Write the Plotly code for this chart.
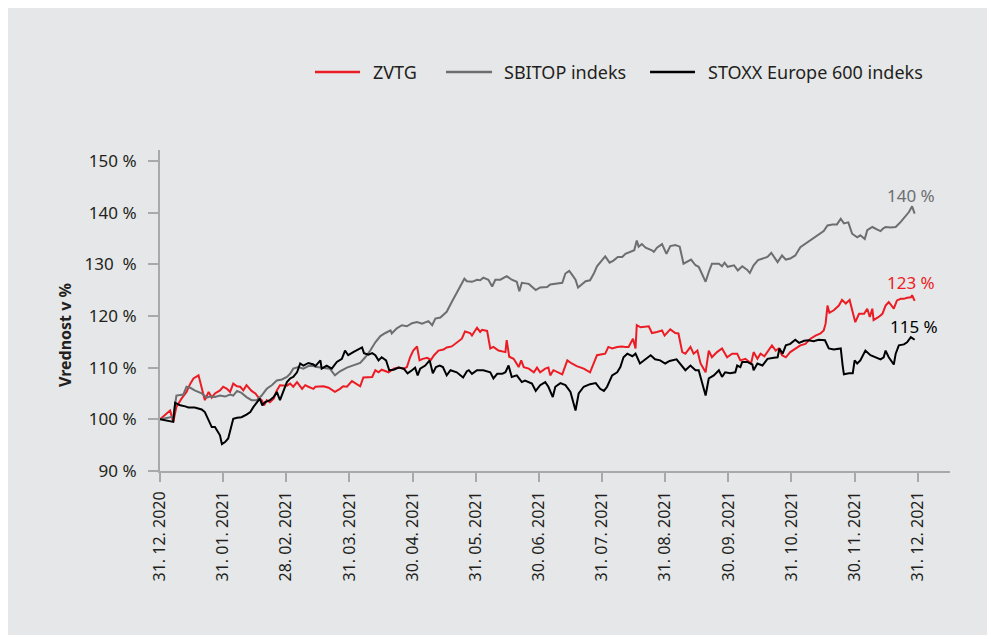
import plotly.graph_objects as go

# x positions are in months since 31.12.2020 (axis spaced evenly per month)
tick_labels = ["31. 12. 2020", "31. 01. 2021", "28. 02. 2021", "31. 03. 2021", "30. 04. 2021",
               "31. 05. 2021", "30. 06. 2021", "31. 07. 2021", "31. 08. 2021", "30. 09. 2021",
               "31. 10. 2021", "30. 11. 2021", "31. 12. 2021"]
y_ticks = [90, 100, 110, 120, 130, 140, 150]
y_tick_labels = ["90 %", "100 %", "110 %", "120 %", "130\u00a0 %", "140 %", "150 %"]

zvtg_x = [0.00, 0.16, 0.21, 0.26, 0.34, 0.42, 0.48, 0.53, 0.61, 0.71, 0.77, 0.82, 0.87, 0.95, 1.00, 1.06,
          1.11, 1.16, 1.22, 1.27, 1.32, 1.37, 1.45, 1.51, 1.56, 1.61, 1.65, 1.69, 1.74, 1.80, 1.85, 1.90,
          2.01, 2.06, 2.11, 2.17, 2.25, 2.30, 2.35, 2.43, 2.46, 2.59, 2.67, 2.77, 2.85, 2.90, 2.96, 3.04,
          3.17, 3.22, 3.36, 3.41, 3.46, 3.51, 3.62, 3.70, 3.78, 3.86, 3.91, 3.96, 4.01, 4.07, 4.11, 4.16,
          4.23, 4.29, 4.34, 4.41, 4.49, 4.54, 4.62, 4.70, 4.78, 4.83, 4.91, 4.94, 5.02, 5.07, 5.10, 5.18,
          5.23, 5.28, 5.36, 5.47, 5.49, 5.53, 5.60, 5.68, 5.72, 5.76, 5.84, 5.92, 5.97, 6.02, 6.10, 6.15,
          6.18, 6.23, 6.29, 6.37, 6.45, 6.52, 6.60, 6.71, 6.81, 6.87, 6.92, 7.00, 7.05, 7.10, 7.16, 7.24,
          7.31, 7.37, 7.42, 7.49, 7.53, 7.55, 7.61, 7.74, 7.79, 7.87, 7.95, 7.99, 8.08, 8.16, 8.21, 8.27,
          8.32, 8.40, 8.45, 8.51, 8.56, 8.64, 8.69, 8.74, 8.82, 8.90, 8.98, 9.06, 9.14, 9.19, 9.27, 9.36,
          9.40, 9.46, 9.51, 9.57, 9.62, 9.69, 9.75, 9.80, 9.85, 9.91, 9.98, 10.06, 10.14, 10.22, 10.30,
          10.38, 10.46, 10.51, 10.54, 10.57, 10.60, 10.67, 10.75, 10.80, 10.86, 10.92, 10.96, 11.01,
          11.07, 11.15, 11.20, 11.24, 11.28, 11.30, 11.38, 11.44, 11.49, 11.54, 11.62, 11.67, 11.73,
          11.78, 11.83, 11.89, 11.91, 11.95]
zvtg_y = [100.0, 101.7, 99.5, 102.4, 104.0, 105.3, 106.9, 107.9, 108.5, 103.7, 105.3, 104.2, 105.0, 105.6,
          106.3, 105.9, 105.3, 106.9, 106.4, 106.3, 105.6, 106.6, 105.5, 105.0, 104.2, 103.7, 102.7, 103.7,
          103.3, 104.0, 105.6, 106.6, 106.5, 106.9, 106.3, 107.2, 105.9, 106.6, 106.3, 105.9, 106.3, 106.4,
          106.1, 105.3, 105.9, 106.4, 106.3, 107.4, 106.4, 108.1, 108.2, 109.5, 109.1, 109.6, 109.1, 109.8,
          110.0, 109.8, 110.1, 112.0, 113.3, 114.1, 111.4, 111.7, 111.9, 111.5, 112.4, 113.3, 113.5, 113.9,
          114.1, 114.8, 115.6, 117.0, 116.7, 116.2, 117.7, 116.9, 117.3, 117.1, 113.7, 114.0, 113.3, 113.0,
          115.3, 112.1, 111.7, 110.1, 111.4, 110.1, 109.8, 109.1, 110.0, 109.1, 109.8, 110.0, 108.5, 109.5,
          109.1, 108.7, 111.4, 110.8, 110.3, 109.8, 109.1, 110.8, 112.4, 112.6, 112.7, 114.0, 113.7, 114.0,
          114.1, 114.0, 114.0, 115.6, 113.7, 118.2, 117.8, 118.0, 116.7, 116.9, 117.2, 116.2, 117.4, 116.7,
          116.6, 113.0, 112.7, 114.0, 112.7, 113.3, 110.8, 109.1, 113.3, 112.0, 113.0, 113.7, 112.0, 112.7,
          112.7, 111.4, 111.7, 110.8, 113.0, 111.7, 112.7, 112.2, 113.0, 114.3, 113.3, 113.7, 112.4, 112.0,
          113.0, 113.7, 114.3, 114.6, 115.6, 116.2, 116.6, 117.2, 118.5, 122.0, 120.6, 121.1, 122.0, 123.1,
          122.4, 123.1, 121.4, 118.8, 120.4, 120.4, 121.4, 119.8, 121.4, 119.2, 119.8, 120.4, 122.0, 122.7,
          121.4, 123.0, 123.3, 123.3, 123.5, 123.6, 124.0, 122.9]

sbitop_x = [0.00, 0.13, 0.21, 0.26, 0.37, 0.42, 0.48, 0.55, 0.66, 0.74, 0.79, 0.87, 0.95, 1.03, 1.11, 1.16,
            1.22, 1.29, 1.37, 1.45, 1.53, 1.61, 1.69, 1.77, 1.85, 1.93, 2.01, 2.06, 2.11, 2.19, 2.27, 2.35,
            2.43, 2.48, 2.69, 2.77, 2.85, 2.96, 3.06, 3.17, 3.25, 3.33, 3.41, 3.49, 3.57, 3.65, 3.67, 3.75,
            3.83, 3.91, 3.99, 4.07, 4.15, 4.25, 4.31, 4.36, 4.44, 4.54, 4.62, 4.70, 4.78, 4.82, 4.86, 4.94,
            5.02, 5.07, 5.12, 5.20, 5.26, 5.31, 5.39, 5.49, 5.57, 5.65, 5.69, 5.73, 5.84, 5.89, 5.95, 6.02,
            6.13, 6.18, 6.29, 6.37, 6.42, 6.48, 6.53, 6.58, 6.62, 6.68, 6.74, 6.81, 6.87, 6.92, 7.00, 7.05,
            7.12, 7.18, 7.25, 7.32, 7.37, 7.45, 7.51, 7.55, 7.58, 7.63, 7.69, 7.79, 7.82, 7.87, 7.95, 8.02,
            8.08, 8.16, 8.23, 8.29, 8.41, 8.48, 8.53, 8.58, 8.64, 8.69, 8.74, 8.85, 8.90, 8.94, 8.99, 9.09,
            9.15, 9.22, 9.30, 9.34, 9.40, 9.47, 9.54, 9.62, 9.68, 9.78, 9.85, 9.91, 9.98, 10.06, 10.14,
            10.22, 10.33, 10.41, 10.51, 10.57, 10.65, 10.72, 10.78, 10.83, 10.90, 10.96, 11.04, 11.09,
            11.16, 11.20, 11.28, 11.36, 11.41, 11.45, 11.49, 11.57, 11.65, 11.73, 11.81, 11.86, 11.91, 11.95]
sbitop_y = [100.0, 100.4, 100.5, 104.6, 104.8, 106.3, 106.1, 105.6, 105.0, 104.2, 104.4, 104.3, 104.6, 104.4,
            104.8, 104.6, 105.5, 105.1, 104.3, 103.7, 103.7, 104.6, 105.9, 106.6, 107.5, 107.7, 108.2, 108.8,
            109.8, 110.1, 109.8, 110.3, 110.3, 110.1, 109.8, 108.5, 109.3, 110.0, 110.4, 110.9, 112.0, 113.3,
            114.9, 116.1, 116.7, 117.2, 116.6, 117.6, 118.2, 118.0, 118.6, 118.8, 118.5, 119.0, 118.2, 119.5,
            119.7, 120.8, 122.7, 124.6, 126.2, 127.2, 126.7, 126.6, 127.0, 126.9, 127.4, 127.0, 125.7, 127.0,
            127.0, 127.7, 127.0, 126.6, 124.8, 126.4, 126.2, 125.6, 125.0, 125.5, 125.6, 126.1, 126.2, 126.4,
            128.2, 128.7, 127.9, 127.0, 125.5, 126.2, 126.7, 126.9, 128.2, 129.6, 130.8, 131.5, 130.3, 130.7,
            131.4, 131.4, 132.0, 132.4, 132.7, 134.6, 133.4, 133.9, 133.2, 132.7, 132.4, 133.2, 133.9, 132.0,
            133.5, 133.7, 133.4, 130.1, 130.9, 129.8, 129.5, 128.2, 126.6, 128.5, 130.1, 130.1, 129.6, 130.3,
            129.5, 129.8, 128.8, 129.6, 128.9, 128.3, 129.8, 130.8, 131.1, 131.4, 132.2, 130.4, 131.7, 130.9,
            131.1, 131.7, 133.3, 134.0, 134.9, 135.6, 136.4, 137.5, 137.7, 137.7, 138.8, 137.9, 138.1, 135.9,
            135.2, 135.6, 134.9, 136.6, 137.2, 136.7, 136.4, 136.9, 137.2, 137.1, 137.2, 138.2, 139.5, 140.1,
            141.2, 139.8]

stoxx_x = [0.00, 0.21, 0.24, 0.32, 0.40, 0.45, 0.55, 0.66, 0.71, 0.77, 0.82, 0.87, 0.90, 0.95, 0.98, 1.03,
           1.08, 1.11, 1.16, 1.22, 1.29, 1.37, 1.43, 1.48, 1.53, 1.58, 1.62, 1.66, 1.74, 1.80, 1.85, 1.90,
           1.95, 2.01, 2.06, 2.11, 2.17, 2.22, 2.27, 2.35, 2.43, 2.46, 2.54, 2.56, 2.64, 2.72, 2.80, 2.88,
           2.93, 2.98, 3.06, 3.14, 3.20, 3.23, 3.30, 3.36, 3.41, 3.46, 3.51, 3.58, 3.63, 3.70, 3.78, 3.86,
           3.92, 3.99, 4.04, 4.08, 4.12, 4.20, 4.27, 4.32, 4.37, 4.43, 4.48, 4.54, 4.60, 4.70, 4.80, 4.86,
           4.89, 4.94, 5.02, 5.12, 5.23, 5.28, 5.34, 5.42, 5.47, 5.52, 5.57, 5.65, 5.73, 5.78, 5.89, 5.95,
           6.02, 6.10, 6.15, 6.22, 6.26, 6.34, 6.42, 6.50, 6.55, 6.58, 6.63, 6.71, 6.81, 6.90, 6.97, 7.03,
           7.08, 7.16, 7.24, 7.29, 7.34, 7.40, 7.48, 7.53, 7.60, 7.66, 7.77, 7.84, 7.92, 8.00, 8.07, 8.18,
           8.24, 8.32, 8.40, 8.48, 8.53, 8.58, 8.64, 8.69, 8.77, 8.85, 8.90, 8.95, 9.03, 9.11, 9.14, 9.19,
           9.22, 9.30, 9.38, 9.40, 9.46, 9.54, 9.62, 9.72, 9.78, 9.81, 9.86, 9.91, 9.98, 10.06, 10.12,
           10.20, 10.27, 10.35, 10.43, 10.53, 10.59, 10.67, 10.78, 10.81, 10.83, 10.91, 10.97, 11.00,
           11.04, 11.09, 11.17, 11.25, 11.32, 11.41, 11.46, 11.49, 11.54, 11.62, 11.65, 11.70, 11.78,
           11.83, 11.89, 11.92, 11.95]
stoxx_y = [100.0, 99.5, 103.2, 102.7, 102.5, 102.3, 102.3, 101.9, 101.4, 99.8, 98.5, 98.5, 97.9, 96.9, 95.2,
           95.6, 96.3, 97.9, 100.1, 100.3, 100.4, 100.9, 101.4, 102.4, 103.2, 104.0, 102.7, 103.3, 103.7,
           104.3, 105.3, 103.7, 105.3, 107.2, 107.9, 108.2, 109.1, 110.8, 110.4, 110.9, 110.6, 110.3, 111.4,
           109.8, 110.4, 109.8, 111.1, 111.7, 113.3, 112.4, 113.0, 113.5, 113.9, 112.8, 112.5, 112.8, 112.4,
           111.4, 112.0, 111.4, 109.5, 109.6, 110.0, 109.8, 108.9, 109.5, 110.0, 108.5, 109.8, 110.4, 111.4,
           108.9, 110.1, 110.4, 110.1, 108.5, 109.5, 109.1, 108.1, 109.3, 109.5, 108.8, 109.5, 109.5, 109.1,
           107.9, 108.8, 108.8, 109.1, 110.4, 108.2, 108.5, 107.2, 107.5, 106.9, 105.5, 106.6, 107.2, 106.3,
           104.3, 106.3, 107.0, 106.6, 105.3, 103.0, 101.7, 105.0, 106.3, 106.8, 107.0, 105.9, 105.5, 106.3,
           108.5, 109.1, 110.1, 112.0, 112.7, 112.2, 112.7, 110.8, 111.4, 112.4, 111.6, 111.4, 110.8, 111.3,
           111.6, 110.6, 109.5, 110.4, 109.5, 109.5, 107.5, 104.6, 107.9, 108.5, 109.5, 108.2, 109.1, 108.9,
           109.1, 110.4, 110.1, 111.1, 111.1, 110.6, 109.5, 110.8, 110.4, 111.7, 111.9, 112.0, 113.7, 112.7,
           114.3, 114.6, 115.4, 114.8, 115.2, 115.3, 115.1, 115.4, 115.3, 113.7, 113.5, 113.7, 110.4, 108.7,
           108.9, 108.9, 111.4, 110.8, 111.4, 113.3, 112.4, 112.0, 111.6, 112.0, 113.3, 112.0, 110.6, 112.7,
           114.3, 114.5, 114.9, 115.9, 115.6, 115.4]

series = [
    ("ZVTG", zvtg_x, zvtg_y, "#ec1c24"),
    ("SBITOP indeks", sbitop_x, sbitop_y, "#6d6e71"),
    ("STOXX Europe 600 indeks", stoxx_x, stoxx_y, "#000000"),
]

FONT = "Noto Sans"
BG = "#e6e7e8"
AXIS = "#a7a9ac"
TXT = "#231f20"

fig = go.Figure()
for name, xs, ys, col in series:
    fig.add_trace(go.Scatter(x=xs, y=ys, mode="lines", name=name,
                             line=dict(color=col, width=2), showlegend=False))

# end-value labels
label_shift = {"ZVTG": (-4, 18), "SBITOP indeks": (-4, 18), "STOXX Europe 600 indeks": (-1, 13)}
for name, xs, ys, col in series:
    dx, dy = label_shift[name]
    fig.add_annotation(x=xs[-1], y=ys[-1], xref="x", yref="y",
                       text=f"{round(ys[-1])} %", showarrow=False,
                       xanchor="center", yanchor="middle",
                       xshift=dx, yshift=dy,
                       font=dict(family=FONT, size=17, color=col))

# custom legend (line sample + label) in paper coordinates
legend_pos = [(0.1962, 0.2532, 0.2671), (0.3620, 0.4203, 0.4329), (0.6203, 0.6772, 0.6911)]
LEG_Y = 1.243
for (name, xs, ys, col), (x0, x1, xt) in zip(series, legend_pos):
    fig.add_shape(type="line", xref="paper", yref="paper", x0=x0, x1=x1, y0=LEG_Y, y1=LEG_Y,
                  line=dict(color=col, width=2.5))
    fig.add_annotation(x=xt, y=LEG_Y, xref="paper", yref="paper", text=name, showarrow=False,
                       xanchor="left", yanchor="middle",
                       font=dict(family=FONT, size=18, color=TXT))

# y-axis title
fig.add_annotation(x=-0.120, y=0.424, xref="paper", yref="paper", text="<b>Vrednost v %</b>",
                   showarrow=False, textangle=-90, xanchor="center", yanchor="middle",
                   font=dict(family=FONT, size=16, color=TXT))

fig.update_layout(
    width=995, height=635,
    paper_bgcolor=BG, plot_bgcolor=BG,
    margin=dict(l=152, r=53, t=142, b=172),
    font=dict(family=FONT, size=17, color=TXT),
    showlegend=False,
    xaxis=dict(range=[0, 12.51], tickmode="array", tickvals=list(range(len(tick_labels))),
               ticktext=tick_labels, tickangle=-90, showgrid=False, zeroline=False,
               showline=True, linecolor=AXIS, linewidth=2, ticks="outside", ticklen=9,
               tickwidth=2, tickcolor=AXIS, ticklabelstandoff=3,
               tickfont=dict(family=FONT, size=16, color=TXT)),
    yaxis=dict(range=[90, 152.1], tickmode="array", tickvals=y_ticks, ticktext=y_tick_labels,
               showgrid=False, zeroline=False, showline=True, linecolor=AXIS, linewidth=2,
               ticks="outside", ticklen=10, tickwidth=2, tickcolor=AXIS, ticklabelstandoff=8,
               tickfont=dict(family=FONT, size=17, color=TXT)),
)

fig.write_html("out.html")
